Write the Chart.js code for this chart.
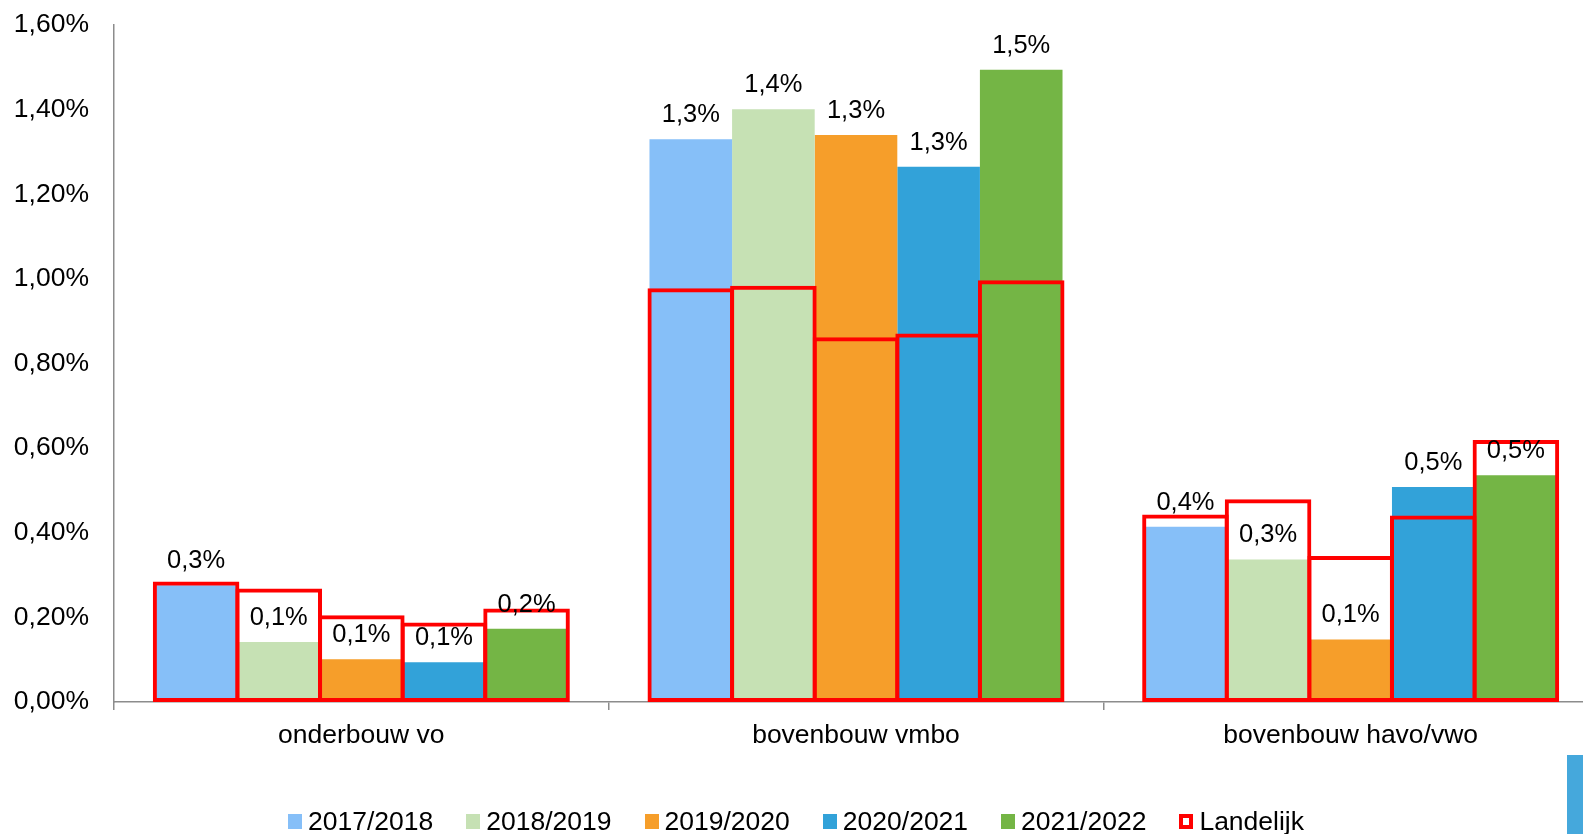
<!DOCTYPE html>
<html lang="nl">
<head>
<meta charset="utf-8">
<title>Verzuim per schoolsoort</title>
<script src="https://cdn.jsdelivr.net/npm/chart.js@4.4.1/dist/chart.umd.min.js"></script>
<style>
    body { margin: 0; overflow: hidden; background: #fff; }
    #wrap { position: relative; width: 1600px; height: 834px; }
    #legend {
        position: absolute; left: 0; top: 806px; width: 1592px;
        display: flex; justify-content: center;
        font: 26.5px 'Liberation Sans', Arial, sans-serif; line-height: 30px; color: #000;
    }
    .item { display: flex; align-items: center; margin-right: 33px; }
    .item:last-child { margin-right: 0; }
    .box { width: 14px; height: 15px; margin-right: 6px; box-sizing: border-box; }
    #corner { position: absolute; left: 1567px; top: 755px; width: 16px; height: 79px; background: #45a8dc; }
</style>
</head>
<body>
<div id="wrap">
    <canvas id="myChart" width="1600" height="834"></canvas>
    <div id="legend"></div>
    <div id="corner"></div>
</div>
<script>
const categories = ['onderbouw vo', 'bovenbouw vmbo', 'bovenbouw havo/vwo'];
const years = ['2017/2018', '2018/2019', '2019/2020', '2020/2021', '2021/2022'];
const landelijkLabel = 'Landelijk';

// percentages per schooljaar, in volgorde van categories
const values1718 = [0.276, 1.330, 0.414];
const values1819 = [0.142, 1.401, 0.337];
const values1920 = [0.101, 1.340, 0.148];
const values2021 = [0.094, 1.265, 0.508];
const values2122 = [0.173, 1.494, 0.536];

// landelijk gemiddelde per schooljaar
const landelijk1718 = [0.285, 0.978, 0.443];
const landelijk1819 = [0.268, 0.984, 0.479];
const landelijk1920 = [0.205, 0.862, 0.345];
const landelijk2021 = [0.188, 0.871, 0.441];
const landelijk2122 = [0.221, 0.997, 0.619];

const yTicks = [0, 0.2, 0.4, 0.6, 0.8, 1.0, 1.2, 1.4, 1.6];

const yearValues = [values1718, values1819, values1920, values2021, values2122];
const landelijkValues = [landelijk1718, landelijk1819, landelijk1920, landelijk2021, landelijk2122];
const colors = ['#86bff8', '#c6e1b4', '#f69e2a', '#32a2d9', '#74b545'];
const red = '#ff0000';
const axisColor = '#8c8c8c';
const fontFamily = "'Liberation Sans', Arial, sans-serif";

const formatPercent = (value, digits) => value.toFixed(digits).replace('.', ',') + '%';

const valueLabels = {
    id: 'valueLabels',
    afterDatasetsDraw(chart) {
        const ctx = chart.ctx;
        ctx.save();
        ctx.font = `25.5px ${fontFamily}`;
        ctx.fillStyle = '#000';
        ctx.textAlign = 'center';
        ctx.textBaseline = 'alphabetic';
        years.forEach((year, i) => {
            chart.getDatasetMeta(i).data.forEach((bar, index) => {
                ctx.fillText(formatPercent(yearValues[i][index], 1), bar.x, bar.y - 17);
            });
        });
        ctx.restore();
    }
};

function getDatasets() {
    const bars = years.map((year, i) => ({
        label: year,
        data: yearValues[i],
        backgroundColor: colors[i],
        borderWidth: 0,
        stack: 'jaar' + i,
        order: 1,
        barPercentage: 1,
        categoryPercentage: 0.835,
    }));
    const outlines = years.map((year, i) => ({
        label: landelijkLabel,
        data: landelijkValues[i],
        backgroundColor: 'rgba(0,0,0,0)',
        borderColor: red,
        borderWidth: 4,
        borderSkipped: false,
        stack: 'jaar' + i,
        order: 0,
        barPercentage: 1.048,
        categoryPercentage: 0.835,
    }));
    return [...bars, ...outlines];
}

function makeLegend() {
    const legend = document.getElementById('legend');
    const entries = years.map((year, i) => ({ text: year, fill: colors[i] }));
    entries.push({ text: landelijkLabel, outline: red });
    entries.forEach(entry => {
        const item = document.createElement('div');
        item.className = 'item';
        const box = document.createElement('span');
        box.className = 'box';
        if (entry.outline) {
            box.style.border = `4px solid ${entry.outline}`;
        } else {
            box.style.background = entry.fill;
        }
        const text = document.createElement('span');
        text.textContent = entry.text;
        item.append(box, text);
        legend.append(item);
    });
}

const ctx = document.getElementById('myChart').getContext('2d');
new Chart(ctx, {
    type: 'bar',
    data: {
        labels: categories,
        datasets: getDatasets(),
    },
    options: {
        responsive: false,
        animation: false,
        devicePixelRatio: 1,
        layout: { padding: { top: 25, right: 2, bottom: 72, left: 0 } },
        plugins: {
            legend: { display: false },
            tooltip: { enabled: false },
        },
        scales: {
            x: {
                offset: true,
                grid: {
                    display: true,
                    offset: true,
                    drawOnChartArea: false,
                    drawTicks: true,
                    tickLength: 8,
                    color: axisColor,
                    lineWidth: 1.5,
                },
                border: { display: true, color: axisColor, width: 1.5 },
                ticks: {
                    color: '#000',
                    padding: 10,
                    font: { family: fontFamily, size: 26.5 },
                    maxRotation: 0,
                },
                afterFit: scale => { scale.height = 60; },
            },
            y: {
                stacked: false,
                min: 0,
                max: 1.6,
                grid: { display: false },
                border: { display: true, color: axisColor, width: 1.5 },
                afterBuildTicks: scale => { scale.ticks = yTicks.map(value => ({ value })); },
                ticks: {
                    color: '#000',
                    padding: 17,
                    font: { family: fontFamily, size: 26.5 },
                    callback: value => formatPercent(value, 2),
                },
                afterFit: scale => {
                    scale.width = 114;
                    scale.paddingTop = 0;
                    scale.paddingBottom = 0;
                },
            },
        },
    },
    plugins: [valueLabels],
});

makeLegend();
</script>
</body>
</html>
